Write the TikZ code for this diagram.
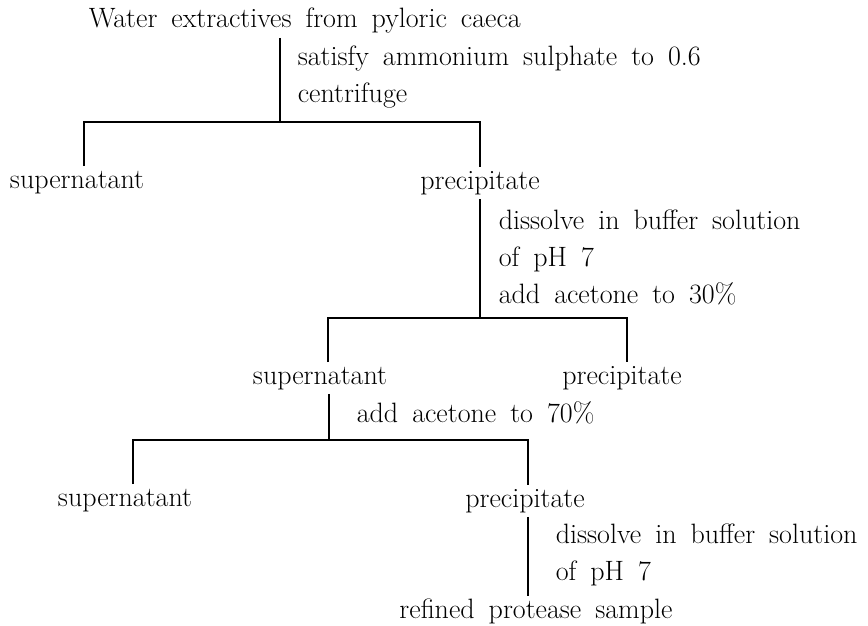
\documentclass[tikz,border=0pt]{standalone}
\usepackage{tikz}

\newcommand{\flowfont}{\fontsize{28}{37}\selectfont\spaceskip=0.5em\relax}

\begin{document}
\begin{tikzpicture}[x=1pt, y=-1pt, line width=1.6pt,
    every node/.style={font=\flowfont, inner sep=2pt},
    item/.style={text height=19pt, text depth=7pt},
    note/.style={anchor=west, align=left}]
  \useasboundingbox (0,0) rectangle (868,626);

  % fractions
  \node[item, anchor=west] (extract) at (86,22) {Water extractives from pyloric caeca};
  \node[item] (sup1) at (77,182) {supernatant};
  \node[item] (pre1) at (480,183) {precipitate};
  \node[item] (sup2) at (320,378) {supernatant};
  \node[item] (pre2) at (622,378) {precipitate};
  \node[item] (sup3) at (125,500) {supernatant};
  \node[item] (pre3) at (525,501) {precipitate};
  \node[item] (sample) at (536,612) {refined protease sample};

  % treatments
  \node[note] (treat1) at (295,77) {satisfy ammonium sulphate to 0.6\\centrifuge};
  \node[note] (treat2) at (496,257) {dissolve in buffer solution\\of pH 7\\add acetone to 30\%};
  \node[note] (treat3) at (354,413) {add acetone to 70\%};
  \node[note] (treat4) at (553,555) {dissolve in buffer solution\\of pH 7};

  % branch points
  \coordinate (fork1) at (280,122);
  \coordinate (fork2) at (480,318);
  \coordinate (fork3) at (329,440);
  \coordinate (bar1l) at (84,122);
  \coordinate (bar1r) at (480,122);
  \coordinate (bar2l) at (328,318);
  \coordinate (bar2r) at (627,318);
  \coordinate (bar3l) at (133,440);
  \coordinate (bar3r) at (528,440);

  \draw (extract.south -| fork1) -- (fork1);
  \draw (pre1.south -| fork2) -- (fork2);
  \draw (sup2.south -| fork3) -- (fork3);
  \draw (pre3.south -| bar3r) -- (sample.north -| bar3r);

  \foreach \l/\r/\a/\b in {bar1l/bar1r/sup1/pre1, bar2l/bar2r/sup2/pre2, bar3l/bar3r/sup3/pre3} {
      \draw (\a.north -| \l) -- (\l) -- (\r) -- (\r |- \b.north);
  }
\end{tikzpicture}
\end{document}
